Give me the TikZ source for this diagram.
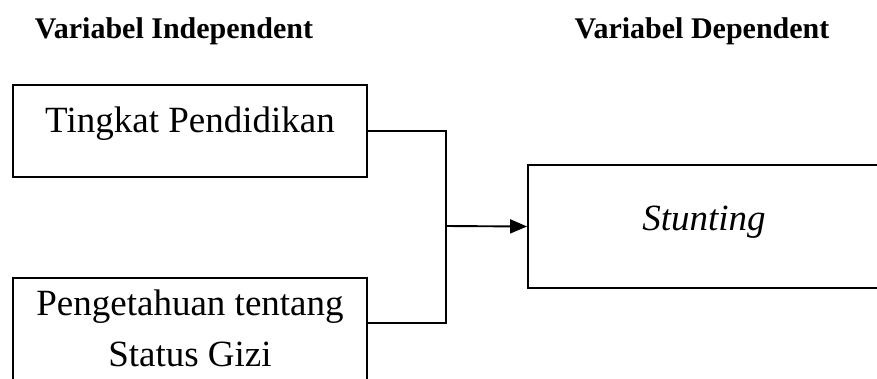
\documentclass[tikz,border=0pt]{standalone}
\usepackage{fontspec}
\setmainfont{Liberation Serif}
\usepackage{tikz}
\usetikzlibrary{arrows.meta}
\usetikzlibrary{calc}

\begin{document}
\begin{tikzpicture}[x=1pt,y=-1pt]
\tikzstyle{judul} = [anchor=base, inner sep=0, font=\fontsize{30}{35}\selectfont\bfseries]
\tikzstyle{kotak} = [draw, line width=1.9pt, inner sep=0, font=\fontsize{37}{51}\selectfont]
\clip (0,0) rectangle (877,378);
\useasboundingbox (0,0) rectangle (877,378);
\node[judul](vi) at (174,38){Variabel Independent};
\node[judul](vd) at (702,38){Variabel Dependent};
\node[kotak, anchor=base, minimum width=354pt, text height=47pt, text depth=45pt](p) at (190,132){Tingkat Pendidikan};
\node[kotak, anchor=north, minimum width=354pt, inner ysep=12pt, text depth=95pt, align=center](g) at (190,277){Pengetahuan tentang\\Status Gizi};
\node[kotak, anchor=base, minimum width=352pt, text height=65pt, text depth=58pt](s) at (704,230){\itshape Stunting};
\coordinate(j) at (446,226); %titik temu
\draw[line width=1.9pt] (p.east) -| (j);
\draw[line width=1.9pt] ([yshift=-46pt]g.north east) -| (j);
\draw[line width=1.9pt, -{Triangle[length=17pt,width=14pt]}] (j) -- (s.west);
\end{tikzpicture}
\end{document}
